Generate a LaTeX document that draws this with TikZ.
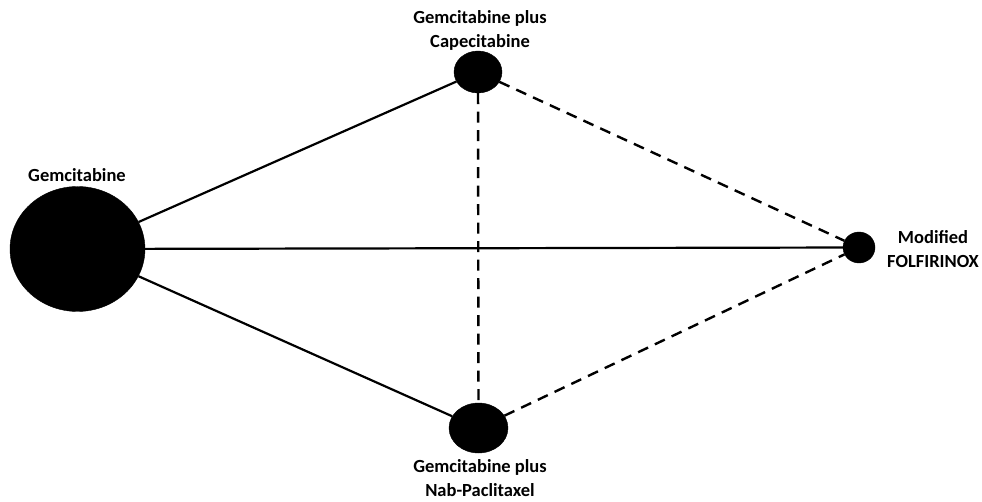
\documentclass[tikz,border=0pt]{standalone}
\usepackage{fontspec}
\setmainfont{Carlito}
\usepackage{tikz}
\usetikzlibrary{positioning,shapes.geometric}
\tikzset{
  armnode/.style={ellipse, fill=black, draw=black, inner sep=0pt},
  armlabel/.style={align=center, inner sep=0pt, font=\fontsize{18.5}{24}\selectfont\bfseries},
  direct/.style={line width=2.2pt},
  indirect/.style={line width=2.4pt, dash pattern=on 11pt off 7.5pt}
}
\begin{document}
\begin{tikzpicture}[x=1pt, y=-1pt]
\useasboundingbox (0,0) rectangle (982,502);
\node[armnode, minimum width=135pt, minimum height=125pt] (gem) at (77.5,249) {};
\node[armnode, minimum width=48pt, minimum height=42pt] (cape) at (478,72) {};
\node[armnode, minimum width=59pt, minimum height=50pt] (nab) at (478.5,428) {};
\node[armnode, minimum width=32pt, minimum height=31pt] (folf) at (859,247.5) {};

\node[armlabel] (gemlab) at (77,175) {Gemcitabine};
\node[armlabel] (capelab) at (480,30) {Gemcitabine plus\\Capecitabine};
\node[armlabel] (nablab) at (480,478) {Gemcitabine plus\\Nab-Paclitaxel};
\node[armlabel] (folflab) at (933,249) {Modified\\FOLFIRINOX};

\draw[direct] (gem) -- (cape);
\draw[direct] (gem) -- (nab);
\draw[direct] (gem) -- (folf);
\draw[indirect] (cape) -- (nab);
\draw[indirect] (cape) -- (folf);
\draw[indirect] (nab) -- (folf);
\end{tikzpicture}
\end{document}
